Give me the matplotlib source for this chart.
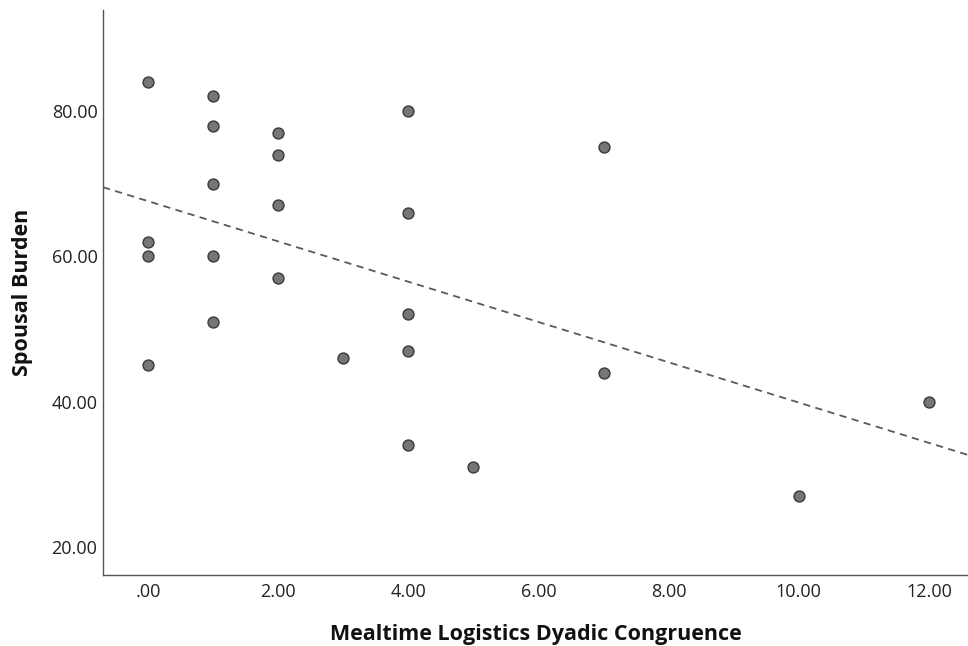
import numpy as np
import matplotlib.pyplot as plt

# Mealtime logistics dyadic congruence vs spousal burden
congruence = [0, 0, 0, 0, 1, 1, 1, 1, 1, 2, 2, 2, 2, 3, 4, 4, 4, 4, 4, 5, 7, 7, 10, 12]
burden = [84, 62, 60, 45, 82, 78, 70, 60, 51, 77, 74, 67, 57, 46, 80, 66, 52, 47, 34, 31, 75, 44, 27, 40]

x_ticks = [0, 2, 4, 6, 8, 10, 12]
x_labels = ['.00', '2.00', '4.00', '6.00', '8.00', '10.00', '12.00']
y_ticks = [20, 40, 60, 80]
y_labels = ['20.00', '40.00', '60.00', '80.00']

plt.rcParams['font.family'] = ['Open Sans', 'DejaVu Sans']

fig = plt.figure(figsize=(9.68, 6.46), dpi=100)
ax = fig.add_axes([0.1064, 0.1099, 0.8936, 0.8746])

x = np.array(congruence, dtype=float)
y = np.array(burden, dtype=float)

# linear fit line
slope, intercept = np.polyfit(x, y, 1)
xlim = (-0.69, 12.6)
xf = np.array(xlim)
ax.plot(xf, slope * xf + intercept, color='#5a5a5a', lw=1.3,
        linestyle=(0, (4, 3)), zorder=1)

ax.scatter(x, y, s=62, color='#767676', edgecolors='#3a3a3a',
           linewidths=1.0, zorder=2)

ax.set_xlim(*xlim)
ax.set_ylim(16.15, 93.9)
ax.set_xticks(x_ticks)
ax.set_xticklabels(x_labels)
ax.set_yticks(y_ticks)
ax.set_yticklabels(y_labels)
ax.tick_params(length=0, labelsize=13, colors='#222222')
ax.tick_params(axis='x', pad=6)
ax.tick_params(axis='y', pad=4)

for side in ['top', 'right']:
    ax.spines[side].set_visible(False)
for side in ['left', 'bottom']:
    ax.spines[side].set_color('#555555')
    ax.spines[side].set_linewidth(1.0)

ax.set_xlabel('Mealtime Logistics Dyadic Congruence', fontsize=15.5,
              fontweight='bold', labelpad=16, color='#111111')
ax.set_ylabel('Spousal Burden', fontsize=15.5, fontweight='bold',
              labelpad=13, color='#111111')

fig.savefig('out.png', dpi=100)
